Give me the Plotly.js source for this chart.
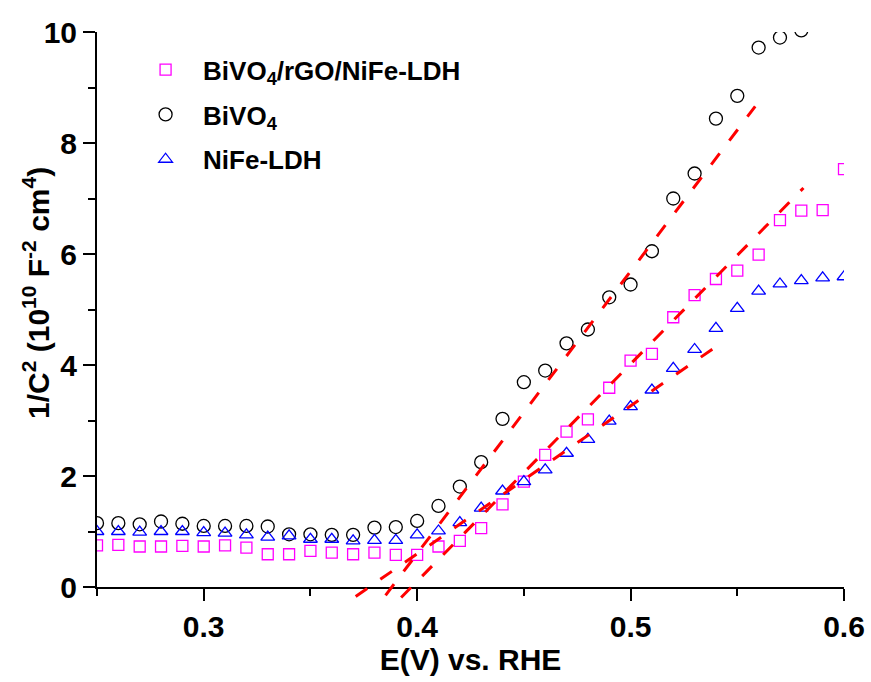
<!DOCTYPE html>
<html>
<head>
<meta charset="utf-8">
<script src="https://cdn.plot.ly/plotly-3.0.1.min.js"></script>
<style>html,body{margin:0;padding:0;background:#fff;}#chart{width:871px;height:682px;}</style>
</head>
<body>
<div id="chart"></div>
<script>
// Potential E (V vs. RHE)
const potential = [0.25,0.26,0.27,0.28,0.29,0.30,0.31,0.32,0.33,0.34,0.35,0.36,0.37,0.38,0.39,0.40,0.41,0.42,0.43,0.44,0.45,0.46,0.47,0.48,0.49,0.50,0.51,0.52,0.53,0.54,0.55,0.56,0.57,0.58,0.59,0.60];
const potentialBiVO4 = [0.25,0.26,0.27,0.28,0.29,0.30,0.31,0.32,0.33,0.34,0.35,0.36,0.37,0.38,0.39,0.40,0.41,0.42,0.43,0.44,0.45,0.46,0.47,0.48,0.49,0.50,0.51,0.52,0.53,0.54,0.55,0.56,0.57,0.58];
// 1/C^2 (10^10 F^-2 cm^4)
const composite = [0.75,0.76,0.73,0.73,0.74,0.73,0.75,0.71,0.59,0.59,0.65,0.62,0.59,0.62,0.58,0.58,0.73,0.83,1.06,1.49,1.90,2.38,2.80,3.02,3.59,4.08,4.20,4.86,5.26,5.55,5.70,5.99,6.61,6.78,6.79,7.53];
const bivo4 = [1.15,1.15,1.13,1.18,1.14,1.10,1.10,1.10,1.09,0.95,0.95,0.94,0.94,1.07,1.08,1.19,1.46,1.81,2.25,3.03,3.69,3.90,4.39,4.64,5.22,5.45,6.05,7.00,7.45,8.44,8.85,9.72,9.90,10.03];
const nife = [1.00,1.00,0.99,1.00,1.00,0.98,0.97,0.94,0.90,0.92,0.86,0.86,0.83,0.84,0.84,0.94,1.01,1.16,1.42,1.73,1.90,2.11,2.41,2.66,2.99,3.25,3.55,3.94,4.28,4.66,5.02,5.33,5.46,5.52,5.57,5.59];
// Linear (Mott-Schottky) fits: end points
const fitBiVO4E = [0.3852, 0.5584];
const fitBiVO4V = [-0.15, 8.66];
const fitCompositeE = [0.3925, 0.5810];
const fitCompositeV = [-0.19, 7.19];
const fitNiFeE = [0.3712, 0.5396];
const fitNiFeV = [-0.17, 4.32];

const seriesNames = ['BiVO<sub>4</sub>/rGO/NiFe-LDH', 'BiVO<sub>4</sub>', 'NiFe-LDH'];
const FONT = 'Liberation Sans, Arial, sans-serif';

const W = 871, H = 682;
const mL = 97, mR = 27, mT = 32, mB = 81;
const ext = 14; // px the fit lines may run below the x axis
const plotH = H - mT - mB;
const yDom0 = ext / plotH;
const pxPerUnit = (plotH - ext) / 10;

const traces = [
  {x: potential, y: composite, name: seriesNames[0], type: 'scatter', mode: 'markers', legendgroup: 'a',
   marker: {symbol: 'square-open', size: 11, color: '#ff00ff', line: {width: 1.3, color: '#ff00ff'}}},
  {x: potentialBiVO4, y: bivo4, name: seriesNames[1], type: 'scatter', mode: 'markers', legendgroup: 'b',
   marker: {symbol: 'circle-open', size: 13, color: '#000000', line: {width: 1.3, color: '#000000'}}},
  {x: potential, y: nife, name: seriesNames[2], type: 'scatter', mode: 'markers', legendgroup: 'c',
   marker: {symbol: 'triangle-up-open', size: 12, color: '#0000ff', line: {width: 1.3, color: '#0000ff'}}},
  {x: fitBiVO4E, y: fitBiVO4V, yaxis: 'y3', type: 'scatter', mode: 'lines', showlegend: false, hoverinfo: 'skip',
   line: {color: '#ff0000', width: 3, dash: '14px,16px'}},
  {x: fitCompositeE, y: fitCompositeV, yaxis: 'y3', type: 'scatter', mode: 'lines', showlegend: false, hoverinfo: 'skip',
   line: {color: '#ff0000', width: 3, dash: '14px,16px'}},
  {x: fitNiFeE, y: fitNiFeV, yaxis: 'y3', type: 'scatter', mode: 'lines', showlegend: false, hoverinfo: 'skip',
   line: {color: '#ff0000', width: 3, dash: '14px,16px'}}
];

const tickFont = {family: FONT, size: 30, color: '#000', weight: 'bold'};

const layout = {
  width: W, height: H,
  margin: {l: mL, r: mR, t: mT, b: mB, pad: 0},
  paper_bgcolor: '#fff', plot_bgcolor: 'rgba(0,0,0,0)',
  showlegend: true,
  legend: {x: 0.0416, y: 0.975, xanchor: 'left', yanchor: 'top', bgcolor: 'rgba(0,0,0,0)',
           font: {family: FONT, size: 26, color: '#000', weight: 'bold'},
           itemwidth: 65, tracegroupgap: 8, traceorder: 'grouped'},
  xaxis: {range: [0.25, 0.6], domain: [0, 1], anchor: 'y', showgrid: false, zeroline: false,
          showline: true, linecolor: '#000', linewidth: 2,
          ticks: 'outside', ticklen: 12, tickwidth: 2, tickcolor: '#000',
          tick0: 0.3, dtick: 0.1, tickformat: '.1f', tickfont: tickFont,
          minor: {ticks: 'outside', ticklen: 7, tickwidth: 2, tickcolor: '#000', tick0: 0.25, dtick: 0.05, showgrid: false},
          title: {text: 'E(V) vs. RHE', font: {family: FONT, size: 30, color: '#000', weight: 'bold'}, standoff: 7}},
  yaxis: {range: [0, 10], domain: [yDom0, 1], anchor: 'x', showgrid: false, zeroline: false,
          showline: true, linecolor: '#000', linewidth: 2,
          ticks: 'outside', ticklen: 12, tickwidth: 2, tickcolor: '#000',
          tick0: 0, dtick: 2, tickfont: tickFont,
          minor: {ticks: 'outside', ticklen: 7, tickwidth: 2, tickcolor: '#000', tick0: 0, dtick: 1, showgrid: false}},
  xaxis2: {range: [0.25, 0.6], overlaying: 'x', side: 'top', anchor: 'y', showgrid: false, zeroline: false,
           showline: true, linecolor: '#000', linewidth: 2, ticks: 'inside', ticklen: 4, tickwidth: 1.5,
           tickcolor: '#000', tick0: 0.25, dtick: 0.05, showticklabels: false},
  yaxis2: {range: [0, 10], overlaying: 'y', side: 'right', anchor: 'x', showgrid: false, zeroline: false,
           showline: true, linecolor: '#000', linewidth: 2, ticks: 'inside', ticklen: 4, tickwidth: 1.5,
           tickcolor: '#000', tick0: 0, dtick: 1, showticklabels: false},
  yaxis3: {range: [-ext / pxPerUnit, 10], domain: [0, 1], anchor: 'x', visible: false, showgrid: false, zeroline: false},
  annotations: [{
    text: '1/C<sup>2</sup> (10<sup>10</sup> F<sup>-2</sup> cm<sup>4</sup>)',
    xref: 'paper', yref: 'paper', x: (36 - mL) / (W - mL - mR), y: (H - mB - 293) / plotH,
    xanchor: 'center', yanchor: 'middle', textangle: -90, showarrow: false,
    font: {family: FONT, size: 30, color: '#000', weight: 'bold'}
  }]
};

Plotly.newPlot('chart', traces, layout, {staticPlot: true, displayModeBar: false});
</script>
</body>
</html>
